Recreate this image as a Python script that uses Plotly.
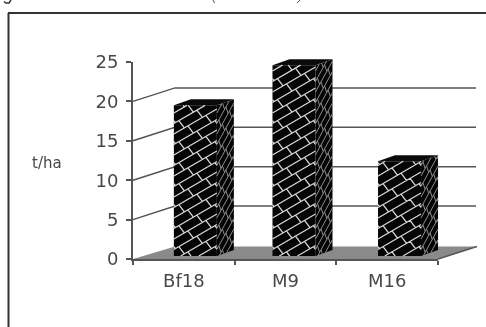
import plotly.graph_objects as go

categories = ["Bf18", "M9", "M16"]
values = [19.5, 24.6, 12.4]
y_ticks = [0, 5, 10, 15, 20, 25]
grid_levels = [5, 10, 15, 20]

W, H = 486, 327
X0, X1 = 133, 438      # pixel extent of the category axis
Y0, Y25 = 259, 62      # pixel extent of the value axis
UX = (X1 - X0) / 3
UY = (Y0 - Y25) / 25
DEPTH_X, DEPTH_Y = 42, 13.5   # pseudo-3D wall offset
LIFT = 0.38            # bars sit slightly behind the front edge
BAR_OFFSET = [-0.098, -0.128, -0.09]
BAR_W = 43 / UX
SIDE_X, SIDE_Y = 17, 6
INK = "#484848"


def path(points, close=True):
    s = "M" + " L".join(f"{x / W:.5f},{1 - y / H:.5f}" for x, y in points)
    return s + (" Z" if close else "")


def clip(a, b, box):
    """Liang-Barsky clip of a segment to box = (x0, y0, x1, y1)."""
    (xa, ya), (xb, yb) = a, b
    t0, t1 = 0.0, 1.0
    ddx, ddy = xb - xa, yb - ya
    for p, q in ((-ddx, xa - box[0]), (ddx, box[2] - xa), (-ddy, ya - box[1]), (ddy, box[3] - ya)):
        if p == 0:
            if q < 0:
                return None
            continue
        r = q / p
        if p < 0:
            t0 = max(t0, r)
        else:
            t1 = min(t1, r)
        if t0 > t1:
            return None
    return (xa + t0 * ddx, ya + t0 * ddy), (xa + t1 * ddx, ya + t1 * ddy)


def brick_segments(box, pitch_y=10.5, pitch_x=18.0, slope=0.58):
    """Rising courses with staggered falling joints, clipped to box."""
    segs = []
    x0, y0, x1, y1 = box
    span = x1 - x0
    n0 = -2
    n1 = int((y1 - y0 + span) / pitch_y) + 3
    for k in range(n0, n1):
        yk = y1 - k * pitch_y + span * slope
        c = clip((x0, yk), (x1, yk - span * slope), box)
        if c:
            segs.append(c)
        for j in range(0, 5):
            xj = x0 + (j + (k % 2) * 0.5) * pitch_x - 4
            yj = yk - (xj - x0) * slope
            c = clip((xj, yj), (xj + 5.5, yj + pitch_y - 5.5 * slope), box)
            if c:
                segs.append(c)
    return segs


shapes = []


def add(p, fill=None, line=None, width=1, layer="above"):
    shapes.append(dict(type="path", path=p, xref="paper", yref="paper", layer=layer,
                       fillcolor=fill or "rgba(0,0,0,0)",
                       line=dict(color=line or "rgba(0,0,0,0)", width=width if line else 0)))


# floor and back walls
add(path([(X0, Y0), (X0 + DEPTH_X, Y0 - DEPTH_Y + 1), (X1 + 39, Y0 - DEPTH_Y + 1), (X1, Y0)]),
    fill="#8a8a8a", layer="below")
add(path([(X1, Y0), (X1 + 39, Y0 - DEPTH_Y + 1)], close=False), line="#555555", width=1.5, layer="below")
for lv in grid_levels:
    py = Y0 - lv * UY
    add(path([(X0, py), (X0 + DEPTH_X, py - DEPTH_Y), (X1 + 38, py - DEPTH_Y)], close=False),
        line="#555555", width=1.5, layer="below")

# bar tops, sides and brick hatch
for i, v in enumerate(values):
    cx = X0 + UX * (i + 0.5)
    left = cx + BAR_OFFSET[i] * UX
    right = left + 43
    top = Y0 - v * UY
    bottom = Y0 - LIFT * UY
    add(path([(left, top), (left + SIDE_X, top - SIDE_Y), (right + SIDE_X, top - SIDE_Y), (right, top)]),
        fill="#0a0a0a")
    add(path([(right, top), (right + SIDE_X, top - SIDE_Y), (right + SIDE_X, bottom - SIDE_Y),
              (right, bottom)]), fill="#050505")
    front = (left, top, right, bottom)
    d = " ".join(path(s, close=False) for s in brick_segments(front))
    add(d, line="#d8d8d8", width=1.3)
    side_box = (0, top, 43, bottom)
    sd = []
    for (xa, ya), (xb, yb) in brick_segments(side_box):
        def m(x, y):
            return right + x * SIDE_X / 43, y - x * SIDE_Y / 43
        sd.append(path([m(xa, ya), m(xb, yb)], close=False))
    add(" ".join(sd), line="#8c8c8c", width=1)

# outer frame
for xa, ya, xb, yb in [(8.5, 13, 8.5, H), (8, 13, W, 13)]:
    shapes.append(dict(type="line", xref="paper", yref="paper",
                       x0=xa / W, x1=xb / W, y0=1 - ya / H, y1=1 - yb / H,
                       line=dict(color="#333333", width=2)))

# ink remnants of the caption that the crop cuts at the top edge
add(path([(4, 1.5), (6, 3), (9, 3), (11, 0)], close=False), line="#333333", width=1.5)
add(path([(213, 0), (214.5, 3)], close=False), line="#555555", width=1)
add(path([(300, 0), (297, 3)], close=False), line="#555555", width=1)

fig = go.Figure(go.Bar(
    x=categories,
    y=[v - LIFT for v in values],
    base=LIFT,
    width=BAR_W,
    offset=BAR_OFFSET,
    marker=dict(color="#050505", line=dict(width=0)),
    hoverinfo="skip",
))

fig.update_layout(
    width=W, height=H, margin=dict(l=0, r=0, t=0, b=0, autoexpand=False),
    paper_bgcolor="white", plot_bgcolor="rgba(0,0,0,0)", showlegend=False,
    font=dict(family="DejaVu Sans", color=INK, size=16),
    shapes=shapes,
    xaxis=dict(domain=[X0 / W, X1 / W], type="category", tickson="boundaries",
               showgrid=False, zeroline=False, showline=True, linecolor="#555555", linewidth=2,
               ticks="outside", ticklen=4, tickcolor="#555555", tickwidth=1.5,
               tickfont=dict(size=18), ticklabelstandoff=4),
    yaxis=dict(domain=[1 - Y0 / H, 1 - Y25 / H], range=[0, 25], tickmode="array",
               tickvals=y_ticks, showgrid=False, zeroline=False, showline=True,
               linecolor="#555555", linewidth=2, ticks="outside", ticklen=5,
               tickcolor="#555555", tickwidth=1.5, tickfont=dict(size=18), ticklabelstandoff=4),
    annotations=[
        dict(text="t/ha", xref="paper", yref="paper", x=47 / W, y=1 - 163 / H, xanchor="center",
             showarrow=False, font=dict(size=15, color=INK)),
    ],
)

fig.write_html(
    "out.html",
    config=dict(displayModeBar=False),
    post_script="document.body.style.margin='0';"
                "document.querySelectorAll('.main-svg').forEach(function(s){s.style.filter='blur(0.7px)';});",
)
